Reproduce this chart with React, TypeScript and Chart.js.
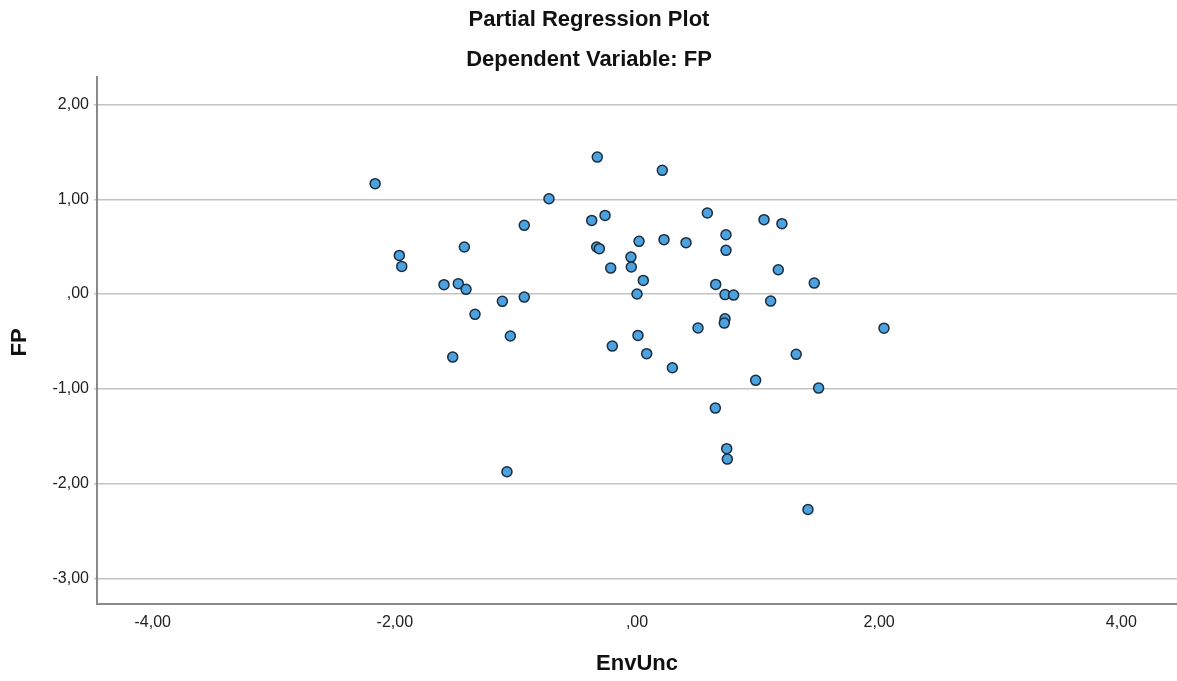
import React, { useEffect, useRef } from "react";
import { Chart, registerables } from "chart.js";

Chart.register(...registerables);

const TITLE = "Partial Regression Plot";
const SUBTITLE = "Dependent Variable: FP";
const X_LABEL = "EnvUnc";
const Y_LABEL = "FP";

const X_TICKS = [-4, -2, 0, 2, 4];
const Y_TICKS = [2, 1, 0, -1, -2, -3];
const X_RANGE = [-4.46, 4.46];
const Y_RANGE = [-3.27, 2.29];

// EnvUnc residuals
const envUnc = [
  -2.163, -0.328, 0.209, -0.727, -0.931, -0.374, -0.264, 0.581, -1.963, -1.943,
  -1.426, -0.333, -0.311, 0.017, 0.223, 0.405, 0.735, 0.735, -0.05, -0.047,
  -0.217, 0.052, -1.594, -1.476, -1.412, 0.0, 0.65, 0.727, -1.112, -0.931,
  -1.338, -1.046, -1.522, 0.008, -0.204, 0.08, 0.292, 0.504, 0.727, 0.721,
  1.049, 1.197, 1.167, 1.464, 0.798, 1.104, 1.315, 0.98, 1.5, 0.647,
  0.741, 0.746, -1.074, 1.412, 2.04,
];
// FP residuals
const fp = [
  1.165, 1.445, 1.305, 1.006, 0.725, 0.777, 0.83, 0.855, 0.408, 0.292,
  0.496, 0.496, 0.479, 0.556, 0.574, 0.542, 0.626, 0.461, 0.39, 0.285,
  0.274, 0.144, 0.099, 0.11, 0.05, 0.0, 0.102, -0.006, -0.077, -0.032,
  -0.214, -0.443, -0.665, -0.436, -0.549, -0.629, -0.777, -0.358, -0.26, -0.306,
  0.785, 0.743, 0.257, 0.116, -0.011, -0.074, -0.636, -0.91, -0.992, -1.203,
  -1.631, -1.741, -1.875, -2.273, -0.36,
];

const fmt = (v: number) => {
  if (Math.abs(v) < 1e-9) return ",00";
  return v.toFixed(2).replace(".", ",");
};

const FONT = "'Liberation Sans', Arial, sans-serif";

export default function App() {
  const ref = useRef<HTMLCanvasElement | null>(null);

  useEffect(() => {
    if (!ref.current) return;
    const points = envUnc.map((x, i) => ({ x, y: fp[i] }));

    const textPlugin = {
      id: "texts",
      afterDraw(chart: any) {
        const ctx = chart.ctx;
        const area = chart.chartArea;
        ctx.save();
        ctx.fillStyle = "#111";
        ctx.textAlign = "center";
        ctx.textBaseline = "alphabetic";
        ctx.font = `bold 22px ${FONT}`;
        ctx.fillText(TITLE, 589, 26);
        ctx.fillText(SUBTITLE, 589, 66);
        ctx.fillText(X_LABEL, (area.left + area.right) / 2, 670);
        ctx.translate(26, (area.top + area.bottom) / 2 + 2);
        ctx.rotate(-Math.PI / 2);
        ctx.fillText(Y_LABEL, 0, 0);
        ctx.restore();
      },
    };

    const chart = new Chart(ref.current, {
      type: "scatter",
      data: {
        datasets: [
          {
            data: points,
            backgroundColor: "#4ba2de",
            borderColor: "#1b2d40",
            borderWidth: 1.5,
            pointRadius: 5,
            pointHoverRadius: 5,
          },
        ],
      },
      options: {
        responsive: false,
        animation: false,
        layout: { autoPadding: false, padding: { top: 77, left: 0, right: 0, bottom: 0 } },
        plugins: {
          legend: { display: false },
          tooltip: { enabled: false },
          title: { display: false },
        },
        scales: {
          x: {
            type: "linear",
            min: X_RANGE[0],
            max: X_RANGE[1],
            afterBuildTicks: (scale: any) => {
              scale.ticks = X_TICKS.map((v) => ({ value: v }));
            },
            afterFit: (scale: any) => {
              scale.height = 77;
              scale.paddingLeft = 0;
              scale.paddingRight = 0;
            },
            grid: { display: false, drawTicks: false },
            border: { display: true, color: "#8a8a8a", width: 2 },
            ticks: {
              padding: 9,
              color: "#222",
              font: { family: FONT, size: 16 },
              callback: (v: any) => fmt(Number(v)),
              maxRotation: 0,
              autoSkip: false,
            },
          },
          y: {
            type: "linear",
            min: Y_RANGE[0],
            max: Y_RANGE[1],
            afterBuildTicks: (scale: any) => {
              scale.ticks = Y_TICKS.map((v) => ({ value: v }));
            },
            afterFit: (scale: any) => {
              scale.width = 97;
              scale.paddingTop = 0;
              scale.paddingBottom = 0;
            },
            grid: {
              display: true,
              color: "#c4c4c4",
              lineWidth: 1.5,
              drawTicks: true,
              tickLength: 3,
              tickColor: "#c4c4c4",
            },
            border: { display: true, color: "#8a8a8a", width: 2 },
            ticks: {
              padding: 5,
              color: "#222",
              font: { family: FONT, size: 16 },
              callback: (v: any) => fmt(Number(v)),
              autoSkip: false,
            },
          },
        },
      },
      plugins: [textPlugin],
    } as any);

    return () => chart.destroy();
  }, []);

  return (
    <div style={{ position: "absolute", left: 0, top: 0, width: 1177, height: 681, background: "#fff" }}>
      <canvas ref={ref} width={1177} height={681} style={{ width: 1177, height: 681, display: "block" }} />
    </div>
  );
}
